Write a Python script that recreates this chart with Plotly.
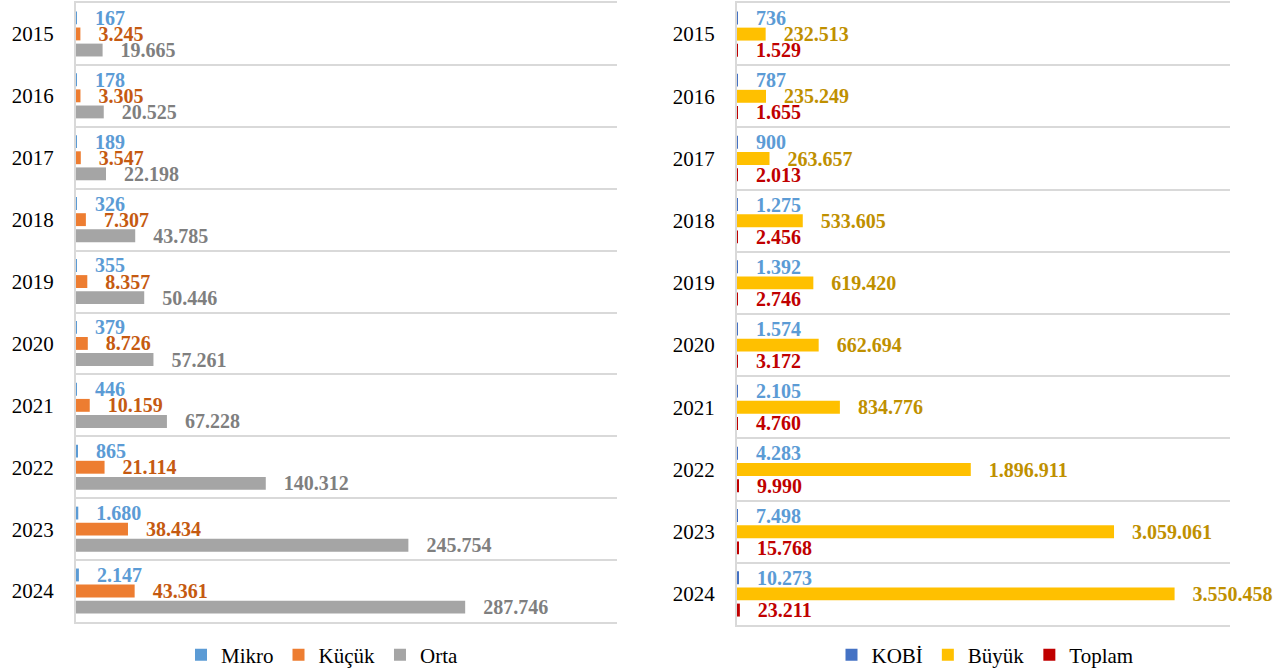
import plotly.graph_objects as go

years = ["2015", "2016", "2017", "2018", "2019", "2020", "2021", "2022", "2023", "2024"]

mikro = [167, 178, 189, 326, 355, 379, 446, 865, 1680, 2147]
kucuk = [3245, 3305, 3547, 7307, 8357, 8726, 10159, 21114, 38434, 43361]
orta = [19665, 20525, 22198, 43785, 50446, 57261, 67228, 140312, 245754, 287746]

kobi = [736, 787, 900, 1275, 1392, 1574, 2105, 4283, 7498, 10273]
buyuk = [232513, 235249, 263657, 533605, 619420, 662694, 834776, 1896911, 3059061, 3550458]
toplam = [1529, 1655, 2013, 2456, 2746, 3172, 4760, 9990, 15768, 23211]

FONT = "Liberation Serif"
GRID = "#D9D9D9"


def fmt(v):
    return "\u00a0\u00a0\u00a0" + f"{v:,}".replace(",", ".")


fig = go.Figure()

series = [
    ("Mikro", mikro, "#5B9BD5", "#5B9BD5", "x", "y", "legend"),
    ("Küçük", kucuk, "#ED7D31", "#C55A11", "x", "y", "legend"),
    ("Orta", orta, "#A5A5A5", "#7F7F7F", "x", "y", "legend"),
    ("KOBİ", kobi, "#4472C4", "#5B9BD5", "x2", "y2", "legend2"),
    ("Büyük", buyuk, "#FFC000", "#BF9000", "x2", "y2", "legend2"),
    ("Toplam", toplam, "#C00000", "#C00000", "x2", "y2", "legend2"),
]

for name, vals, col, tcol, xa, ya, lg in series:
    fig.add_trace(go.Bar(
        name=name, y=years, x=vals, orientation="h",
        marker=dict(color=col, line=dict(width=0)),
        text=[fmt(v) for v in vals], textposition="outside",
        textfont=dict(family=FONT, size=20, color=tcol, weight="bold"),
        constraintext="none", cliponaxis=False,
        xaxis=xa, yaxis=ya, legend=lg,
    ))

W = 1286
H = 671


def px(x):
    return x / W


def py(y):
    return 1 - y / H


xcommon = dict(showticklabels=False, showgrid=False, zeroline=False,
               showline=True, mirror=True, linecolor=GRID, linewidth=2, ticks="")
ycommon = dict(autorange="reversed", tickson="boundaries", showgrid=True,
               gridcolor=GRID, gridwidth=2, showline=True, linecolor=GRID,
               linewidth=2, ticks="", ticklabelstandoff=16,
               tickfont=dict(family=FONT, size=21, color="#000000"))

fig.update_layout(
    width=W, height=H,
    margin=dict(l=0, r=0, t=0, b=0, autoexpand=False),
    paper_bgcolor="white", plot_bgcolor="white",
    barmode="group", bargap=0.22, bargroupgap=0.2,
    xaxis=dict(domain=[px(76), px(617)], range=[0, 400000], anchor="y", **xcommon),
    yaxis=dict(domain=[py(622), py(3)], anchor="x", **ycommon),
    xaxis2=dict(domain=[px(737), px(1230)], range=[0, 4000000], anchor="y2", **xcommon),
    yaxis2=dict(domain=[py(625), py(3)], anchor="x2", **ycommon),
    legend=dict(orientation="h", x=px(322), xanchor="center", y=py(655), yanchor="middle",
                font=dict(family=FONT, size=21, color="#000000"), itemwidth=30,
                bgcolor="rgba(0,0,0,0)"),
    legend2=dict(orientation="h", x=px(985), xanchor="center", y=py(655), yanchor="middle",
                 font=dict(family=FONT, size=21, color="#000000"), itemwidth=30,
                 bgcolor="rgba(0,0,0,0)"),
    showlegend=True,
)

fig.write_html("out.html", config={"displayModeBar": False},
               post_script="document.body.style.margin='0px';")
